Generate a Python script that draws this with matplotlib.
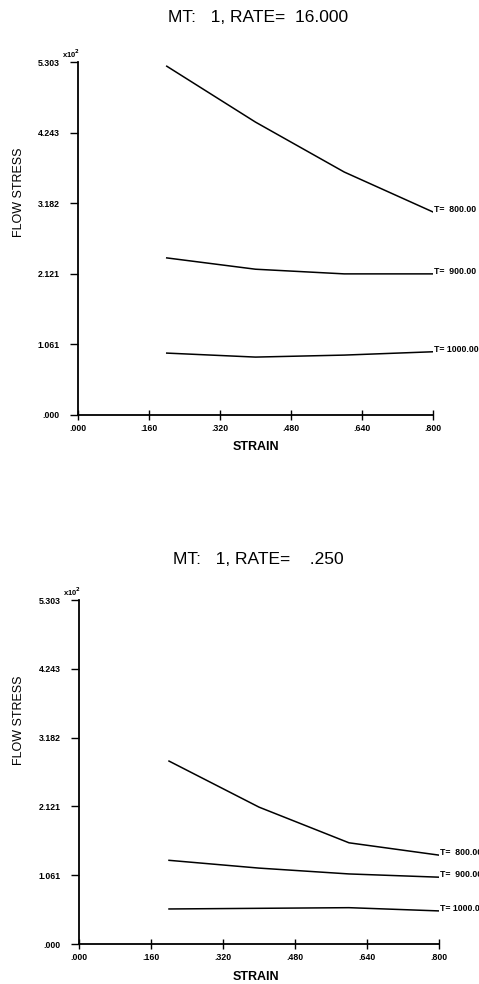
import matplotlib.pyplot as plt

plt.rcParams['font.family'] = ['Liberation Sans', 'DejaVu Sans']

# data (flow stress in units of 10^2)
strain = [0.2, 0.4, 0.6, 0.8]
temp_labels = ['T=  800.00', 'T=  900.00', 'T= 1000.00']

rate16_T800 = [5.24, 4.40, 3.65, 3.05]
rate16_T900 = [2.36, 2.19, 2.12, 2.12]
rate16_T1000 = [0.93, 0.87, 0.90, 0.95]

rate025_T800 = [2.82, 2.11, 1.56, 1.37]
rate025_T900 = [1.29, 1.17, 1.08, 1.03]
rate025_T1000 = [0.54, 0.55, 0.56, 0.51]

xticks = [0.0, 0.16, 0.32, 0.48, 0.64, 0.8]
xtick_labels = ['.000', '.160', '.320', '.480', '.640', '.800']
yticks = [0.0, 1.061, 2.121, 3.182, 4.243, 5.303]
ytick_labels = ['.000', '1.061', '2.121', '3.182', '4.243', '5.303']

titles = ['MT:   1, RATE=  16.000', 'MT:   1, RATE=    .250']

fig = plt.figure(figsize=(4.79, 9.84), dpi=100)
W, H = 479.0, 984.0

# pixel boxes: left, right, top, bottom
boxes = [(78, 433, 62, 415), (79, 439, 600, 944)]
title_y = [17, 560]
ylabel_y = [192, 720]
xlabel_y = [447, 977]
series = [[rate16_T800, rate16_T900, rate16_T1000],
          [rate025_T800, rate025_T900, rate025_T1000]]

for k in range(2):
    l, r, t, b = boxes[k]
    ax = fig.add_axes([l / W, 1 - b / H, (r - l) / W, (b - t) / H])
    for vals, lab in zip(series[k], temp_labels):
        ax.plot(strain, vals, color='black', lw=1.1)
        ax.text(strain[-1] + 0.003, vals[-1], lab, fontsize=6.3, fontweight='bold',
                ha='left', va='baseline', clip_on=False)
    ax.set_xlim(0, 0.8)
    ax.set_ylim(0, 5.303)
    ax.set_xticks(xticks)
    ax.set_xticklabels(xtick_labels)
    ax.set_yticks(yticks)
    ax.set_yticklabels(ytick_labels)
    for s in ['top', 'right']:
        ax.spines[s].set_visible(False)
    for s in ['left', 'bottom']:
        ax.spines[s].set_linewidth(1.3)
    ax.tick_params(axis='x', direction='inout', length=7, width=1.0, pad=3,
                   labelsize=6.3)
    ax.tick_params(axis='y', direction='out', length=6, width=1.0, pad=7,
                   labelsize=6.3)
    for tl in ax.get_xticklabels() + ax.get_yticklabels():
        tl.set_fontweight('bold')
    ax.text(0.005, 1.005, r'x10$^{\mathbf{2}}$', transform=ax.transAxes, fontsize=5.5,
            fontweight='bold', ha='right', va='bottom')
    fig.text(258 / W, 1 - title_y[k] / H, titles[k], fontsize=12.5,
             ha='center', va='center')
    fig.text(19 / W, 1 - ylabel_y[k] / H, 'FLOW STRESS', fontsize=9,
             rotation=90, ha='center', va='center')
    fig.text(256 / W, 1 - xlabel_y[k] / H, 'STRAIN', fontsize=9,
             fontweight='bold', ha='center', va='center')

fig.savefig('out.png', dpi=100)
